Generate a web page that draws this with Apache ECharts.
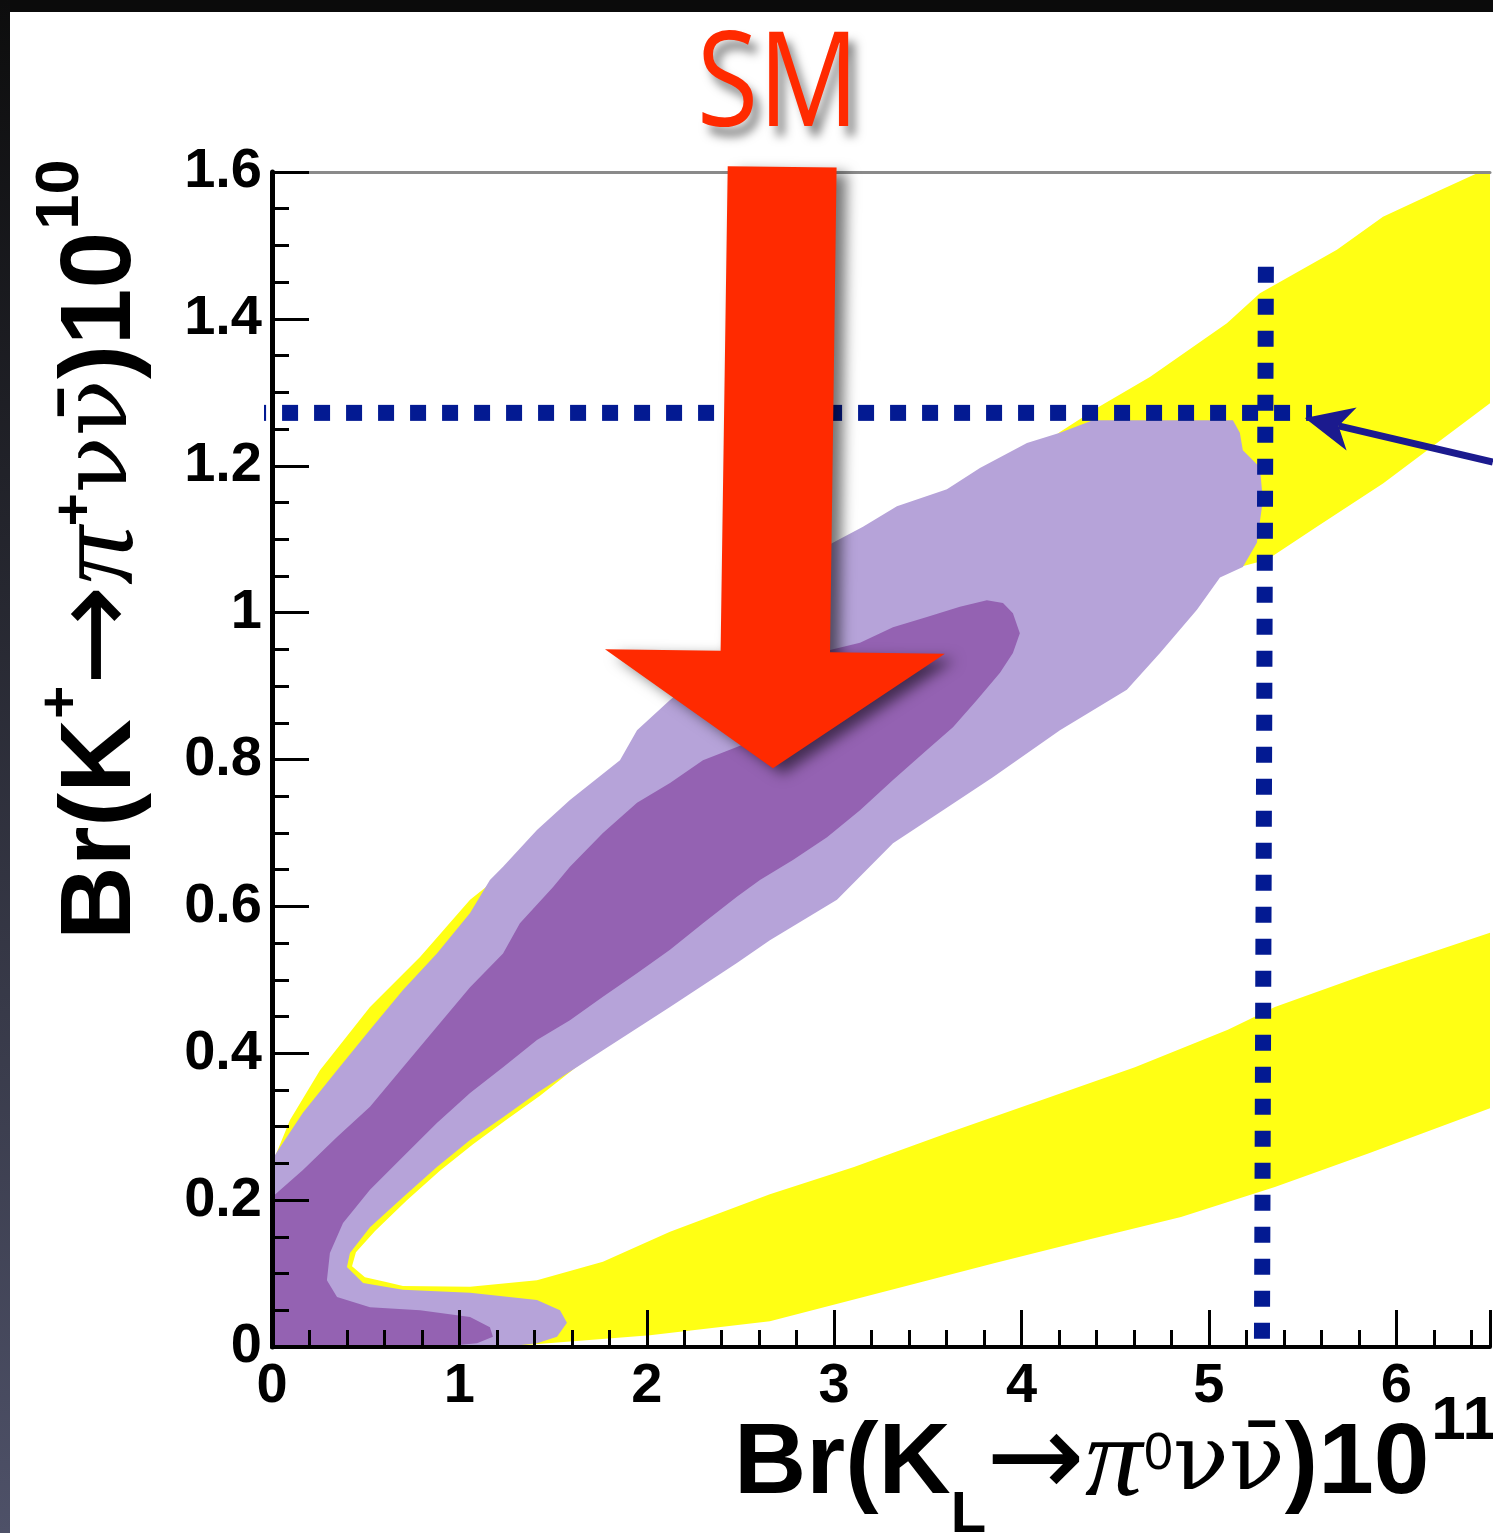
<!DOCTYPE html>
<html><head><meta charset="utf-8">
<script src="https://cdn.jsdelivr.net/npm/echarts@6/dist/echarts.min.js"></script>
<style>html,body{margin:0;padding:0;background:#fff}#c{width:1493px;height:1533px}</style>
</head><body><div id="c"></div>
<script>
// ---- axis ticks ----
const xTickValues = [0, 1, 2, 3, 4, 5, 6];
const yTickValues = [0, 0.2, 0.4, 0.6, 0.8, 1, 1.2, 1.4, 1.6];

// ---- regions (x = Br(KL) 1e11, y = Br(K+) 1e10) ----
const yellowBand = [
  [6.5,1.6],[6.446,1.6],[6.233,1.575],[5.929,1.539],[5.683,1.494],[5.272,1.435],[5.096,1.394],
  [4.685,1.321],[4.418,1.281],[4.205,1.246],[3.885,1.181],[3.351,1.072],[2.818,0.963],[2.284,0.861],
  [1.750,0.758],[1.323,0.663],[1.057,0.609],[0.790,0.531],[0.523,0.463],[0.256,0.377],[0.096,0.309],
  [0.016,0.259],[0,0.248],[0,0],[1.217,0],[2.017,0.016],[2.657,0.035],[3.853,0.114],[4.354,0.146],
  [4.851,0.177],[5.352,0.218],[5.854,0.264],[6.5,0.325],
  [6.5,0.564],[5.854,0.509],[5.352,0.463],[5.101,0.432],[4.605,0.381],[4.104,0.336],[3.602,0.291],
  [3.106,0.245],[2.657,0.208],[2.124,0.157],[1.766,0.116],[1.414,0.091],[1.057,0.082],[0.699,0.083],
  [0.603,0.089],[0.496,0.095],[0.427,0.110],[0.448,0.129],[0.550,0.158],[0.720,0.200],[0.896,0.240],
  [1.073,0.276],[1.249,0.309],[1.430,0.342],[1.766,0.410],[2.124,0.477],[2.657,0.571],[3.138,0.674],
  [3.671,0.758],[4.205,0.851],[4.685,0.956],[5.043,1.054],[5.310,1.072],[5.576,1.117],[5.929,1.176],
  [6.5,1.285]
];
const lightRegion = [
  [0,0.255],[0.043,0.272],[0.165,0.319],[0.347,0.377],[0.523,0.432],[0.699,0.486],[0.880,0.536],
  [1.057,0.591],[1.163,0.636],[1.233,0.654],[1.414,0.704],[1.590,0.745],[1.857,0.799],[1.948,0.840],
  [2.124,0.881],[2.391,0.935],[2.711,1.017],[2.978,1.093],[3.154,1.117],[3.335,1.145],[3.602,1.168],
  [3.778,1.197],[4.029,1.231],[4.205,1.245],[4.381,1.262],[5.128,1.262],[5.165,1.245],[5.181,1.221],
  [5.272,1.198],[5.288,1.153],[5.256,1.095],[5.181,1.062],[5.059,1.048],[4.936,1.004],[4.739,0.945],
  [4.562,0.895],[4.205,0.840],[3.847,0.776],[3.581,0.731],[3.314,0.686],[3.015,0.609],[2.657,0.554],
  [2.481,0.523],[2.124,0.463],[1.766,0.404],[1.414,0.346],[1.233,0.313],[1.057,0.282],[0.880,0.245],
  [0.699,0.204],[0.523,0.163],[0.416,0.128],[0.400,0.109],[0.486,0.087],[0.699,0.078],[1.057,0.074],
  [1.414,0.064],[1.537,0.050],[1.574,0.033],[1.521,0.014],[1.414,0.005],[1.233,0],[0,0]
];
const darkRegion = [
  [0,0.204],[0.027,0.210],[0.165,0.241],[0.347,0.286],[0.523,0.327],[0.699,0.381],[0.880,0.436],
  [1.057,0.490],[1.233,0.536],[1.323,0.577],[1.499,0.626],[1.590,0.654],[1.766,0.700],[1.948,0.741],
  [2.124,0.768],[2.300,0.799],[2.481,0.817],[2.657,0.836],[2.818,0.895],[2.978,0.949],[3.138,0.959],
  [3.314,0.980],[3.495,0.994],[3.671,1.008],[3.815,1.017],[3.901,1.013],[3.954,0.999],[3.991,0.972],
  [3.954,0.945],[3.885,0.918],[3.762,0.881],[3.634,0.844],[3.495,0.813],[3.314,0.772],[3.138,0.731],
  [2.962,0.694],[2.780,0.663],[2.604,0.636],[2.481,0.613],[2.300,0.577],[2.124,0.541],[1.948,0.509],
  [1.766,0.477],[1.590,0.445],[1.414,0.418],[1.233,0.381],[1.057,0.346],[0.880,0.305],[0.699,0.259],
  [0.523,0.214],[0.379,0.169],[0.309,0.128],[0.293,0.091],[0.347,0.068],[0.523,0.054],[0.790,0.050],
  [1.057,0.041],[1.163,0.027],[1.179,0.014],[1.094,0.005],[0.880,0],[0,0]
];

// ---- annotations ----
const kPlusLine = [[-0.117,1.272],[5.55,1.272]];
const kLLine = [[5.304,1.471],[5.283,0.011]];
const pointerArrow = [[6.515,1.205],[5.512,1.265]];
const smArrow = [[2.432,1.608],[3.013,1.606],[2.978,0.946],[3.591,0.944],[2.673,0.788],[1.777,0.950],[2.394,0.948]];

function polySeries(name, pts, fill, z, extra) {
  return {
    type: 'custom', name, z, silent: true, clip: false, data: pts,
    renderItem(params, api) {
      if (params.dataIndex !== 0) return null;
      return { type: 'polygon', shape: { points: pts.map(p => api.coord(p)) },
        style: Object.assign({ fill }, extra || {}) };
    }
  };
}

const chart = echarts.init(document.getElementById('c'), null, { renderer: 'canvas' });
const labelFont = { fontFamily: 'Liberation Sans', fontWeight: 'bold', fontSize: 56, color: '#000' };
const B = { fontFamily: 'Liberation Sans', fontWeight: 'bold', fontSize: 100, lineHeight: 160, verticalAlign: 'middle', fill: '#000' };
const SYM = { fontFamily: 'DejaVu Sans', fontSize: 118, lineHeight: 160, verticalAlign: 'middle', fill: '#000' };
const PI = { fontFamily: 'Liberation Serif', fontStyle: 'italic', fontSize: 114, lineHeight: 160, verticalAlign: 'middle', fill: '#000' };
const NU = { fontFamily: 'DejaVu Serif', fontSize: 92, lineHeight: 160, verticalAlign: 'middle', fill: '#000' };
chart.setOption({
  backgroundColor: '#ffffff',
  animation: false,
  grid: { left: 272, top: 172, right: 3, bottom: 186 },
  xAxis: [
    { type: 'value', min: 0, max: 6.5, interval: 1, position: 'bottom', z: 10,
      axisLine: { lineStyle: { color: '#000', width: 4 } },
      axisTick: { inside: true, length: 37, lineStyle: { color: '#000', width: 3 } },
      axisLabel: Object.assign({ margin: 12, formatter: v => xTickValues.includes(v) ? String(v) : '' }, labelFont),
      splitLine: { show: false } },
    { type: 'value', min: 0, max: 6.5, interval: 0.2, position: 'bottom', z: 10,
      axisLine: { show: false },
      axisTick: { inside: true, length: 17, lineStyle: { color: '#000', width: 3 } },
      axisLabel: { show: false }, splitLine: { show: false } },
    { type: 'value', min: 0, max: 6.5, position: 'top', z: 9,
      axisLine: { lineStyle: { color: '#8a8a8a', width: 3 } },
      axisTick: { show: false }, axisLabel: { show: false }, splitLine: { show: false } }
  ],
  yAxis: [
    { type: 'value', min: 0, max: 1.6, interval: 0.2, position: 'left', z: 10,
      axisLine: { lineStyle: { color: '#000', width: 5 } },
      axisTick: { inside: true, length: 37, lineStyle: { color: '#000', width: 3 } },
      minorTick: { show: true, splitNumber: 4, length: 17, lineStyle: { color: '#000', width: 3 } },
      axisLabel: Object.assign({ margin: 10, formatter: v => {
        const t = yTickValues.find(a => Math.abs(a - v) < 1e-6); return t === undefined ? '' : String(t); } }, labelFont),
      splitLine: { show: false } },
    { type: 'value', min: 0, max: 1.6, position: 'right', z: 9,
      axisLine: { lineStyle: { color: '#444', width: 3 } },
      axisTick: { show: false }, axisLabel: { show: false }, splitLine: { show: false } }
  ],
  series: [
    polySeries('yellow', yellowBand, '#ffff14', 2),
    polySeries('light', lightRegion, '#b6a3d9', 3),
    polySeries('dark', darkRegion, '#9462b2', 4),
    { type: 'line', name: 'K+ limit', data: kPlusLine, z: 15, clip: false, silent: true,
      showSymbol: false, symbol: 'none',
      lineStyle: { color: '#031a92', width: 16, type: [16, 16], cap: 'butt' } },
    { type: 'line', name: 'KL limit', data: kLLine, z: 15, clip: false, silent: true,
      showSymbol: false, symbol: 'none',
      lineStyle: { color: '#031a92', width: 16, type: [16, 16], cap: 'butt' } },
    { type: 'custom', name: 'pointer', z: 16, clip: false, silent: true, data: pointerArrow,
      renderItem(params, api) {
        if (params.dataIndex !== 0) return null;
        const a = api.coord(pointerArrow[0]), b = api.coord(pointerArrow[1]);
        const dx = b[0] - a[0], dy = b[1] - a[1], L = Math.hypot(dx, dy), ux = dx / L, uy = dy / L;
        const hl = 48, hw = 22;
        const base = [b[0] - ux * hl, b[1] - uy * hl];
        const neck = [b[0] - ux * hl * 0.72, b[1] - uy * hl * 0.72];
        const p1 = [base[0] - uy * hw, base[1] + ux * hw], p2 = [base[0] + uy * hw, base[1] - ux * hw];
        return { type: 'group', children: [
          { type: 'line', shape: { x1: a[0], y1: a[1], x2: neck[0], y2: neck[1] }, style: { stroke: '#1b1a8e', lineWidth: 7 } },
          { type: 'polygon', shape: { points: [b, p1, neck, p2] }, style: { fill: '#1b1a8e' } }
        ] };
      } },
    polySeries('SM arrow', smArrow, '#ff2a00', 20,
      { shadowBlur: 14, shadowOffsetX: 10, shadowOffsetY: 6, shadowColor: 'rgba(0,0,0,0.55)' })
  ],
  graphic: [
    { type: 'rect', left: 0, top: 0, z: 100, shape: { width: 1493, height: 12 }, style: { fill: '#0b0b0b' } },
    { type: 'rect', left: 0, top: 0, z: 100, shape: { width: 10, height: 1533 },
      style: { fill: new echarts.graphic.LinearGradient(0, 0, 0, 1, [{ offset: 0, color: '#0d0d0d' }, { offset: 1, color: '#4e5168' }]) } },
    { type: 'text', z: 100, x: 778, y: 88, scaleX: 0.85,
      style: { text: 'SM', fontFamily: 'Open Sans', fontSize: 132, fill: '#ff2a00', align: 'center', verticalAlign: 'middle',
        textShadowColor: 'rgba(0,0,0,0.45)', textShadowBlur: 10, textShadowOffsetX: 7, textShadowOffsetY: 10 } },
    { type: 'text', z: 100, x: 734, y: 1465,
      style: { align: 'left', verticalAlign: 'middle',
        text: '{b|Br(K}{sub|L}{sym|→}{pi|π}{s0|0}{nu|νν̄}{b|)10}{sup|11}',
        rich: {
          b: B, sym: SYM, pi: PI, nu: NU,
          sub: { fontFamily: 'Liberation Sans', fontWeight: 'bold', fontSize: 58, lineHeight: 70, verticalAlign: 'bottom', fill: '#000' },
          s0: { fontFamily: 'Liberation Sans', fontSize: 52, verticalAlign: 'top', padding: [44, 0, 0, 2], fill: '#000' },
          sup: { fontFamily: 'Liberation Sans', fontWeight: 'bold', fontSize: 62, verticalAlign: 'top', padding: [6, 0, 0, 2], fill: '#000' }
        } } },
    { type: 'text', z: 100, x: 102, y: 940, rotation: Math.PI / 2, scaleX: 1.02,
      style: { align: 'left', verticalAlign: 'middle',
        text: '{b|Br(K}{p1|+}{sym|→}{pi|π}{p2|+}{nu|νν̄}{b|)10}{sup|10}',
        rich: {
          b: B, sym: SYM, pi: PI, nu: NU,
          p1: { fontFamily: 'Liberation Sans', fontWeight: 'bold', fontSize: 56, verticalAlign: 'top', padding: [12, 0, 0, 0], fill: '#000' },
          p2: { fontFamily: 'Liberation Sans', fontWeight: 'bold', fontSize: 56, verticalAlign: 'top', padding: [26, 0, 0, 0], fill: '#000' },
          sup: { fontFamily: 'Liberation Sans', fontWeight: 'bold', fontSize: 62, verticalAlign: 'top', padding: [8, 0, 0, 2], fill: '#000' }
        } } }
  ]
});
</script></body></html>
